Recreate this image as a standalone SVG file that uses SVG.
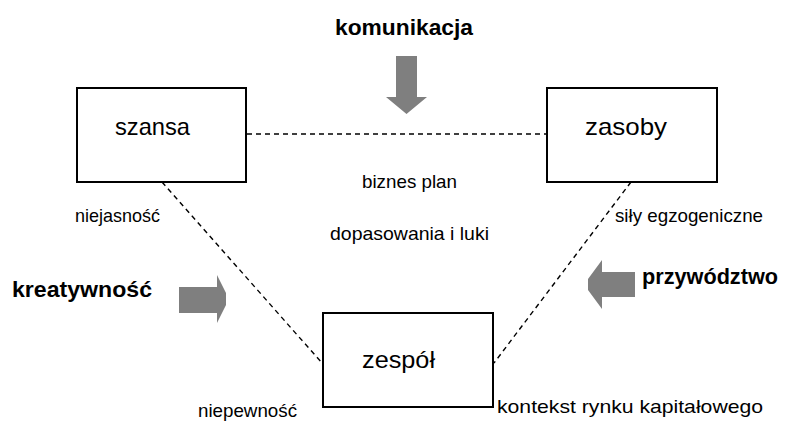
<svg xmlns="http://www.w3.org/2000/svg" width="793" height="421" viewBox="0 0 793 421">
  <style>
    .box { fill: #ffffff; stroke: #000000; stroke-width: 2; }
    .link { stroke: #000000; stroke-width: 1.4; stroke-dasharray: 5 4; fill: none; }
    .arrow { fill: #7f7f7f; }
    .node { font-family: "Liberation Sans", Arial, sans-serif; font-size: 24px; fill: #000; }
    .lbl { font-family: "Liberation Sans", Arial, sans-serif; font-size: 18.5px; fill: #000; }
    .force { font-family: "Liberation Sans", Arial, sans-serif; font-size: 22.5px; font-weight: bold; fill: #000; }
  </style>
  <rect width="793" height="421" fill="#ffffff"/>

  <!-- dashed links between the three elements -->
  <g id="connectors">
    <line class="link" x1="247" y1="134" x2="547" y2="134"/>
    <line class="link" x1="162" y1="182" x2="322" y2="363"/>
    <line class="link" x1="631" y1="182" x2="494" y2="363"/>
  </g>

  <g id="szansa">
    <rect class="box" x="77" y="88" width="169" height="94"/>
    <text class="node" x="115" y="135" textLength="75" lengthAdjust="spacingAndGlyphs">szansa</text>
  </g>
  <g id="zasoby">
    <rect class="box" x="547" y="88" width="170" height="94"/>
    <text class="node" x="585" y="135" textLength="82" lengthAdjust="spacingAndGlyphs">zasoby</text>
  </g>
  <g id="zespol">
    <rect class="box" x="323" y="313" width="170" height="94"/>
    <text class="node" x="362" y="368" textLength="73" lengthAdjust="spacingAndGlyphs">zespół</text>
  </g>

  <!-- labels -->
  <g id="labels">
    <text class="lbl" x="362" y="188" textLength="95" lengthAdjust="spacingAndGlyphs">biznes plan</text>
    <text class="lbl" x="330" y="240" textLength="159" lengthAdjust="spacingAndGlyphs">dopasowania i luki</text>
    <text class="lbl" x="75" y="222" textLength="85" lengthAdjust="spacingAndGlyphs">niejasność</text>
    <text class="lbl" x="615" y="222" textLength="148" lengthAdjust="spacingAndGlyphs">siły egzogeniczne</text>
    <text class="lbl" x="198" y="417" textLength="99" lengthAdjust="spacingAndGlyphs">niepewność</text>
    <text class="lbl" x="497" y="413" textLength="266" lengthAdjust="spacingAndGlyphs">kontekst rynku kapitałowego</text>
  </g>

  <!-- external forces -->
  <g id="komunikacja">
    <text class="force" x="335" y="35" textLength="138" lengthAdjust="spacingAndGlyphs">komunikacja</text>
    <polygon class="arrow" points="396,56 417,56 417,97 427,97 406.5,114 386,97 396,97"/>
  </g>
  <g id="kreatywnosc">
    <text class="force" x="12" y="297" textLength="140" lengthAdjust="spacingAndGlyphs">kreatywność</text>
    <polygon class="arrow" points="179,287 217,287 217,275 226,293 226,305 217,323 217,313 179,313"/>
  </g>
  <g id="przywodztwo">
    <text class="force" x="642" y="284" textLength="136" lengthAdjust="spacingAndGlyphs">przywództwo</text>
    <polygon class="arrow" points="635,272 602,272 602,260 588,279 588,290 602,309 602,297 635,297"/>
  </g>
</svg>
